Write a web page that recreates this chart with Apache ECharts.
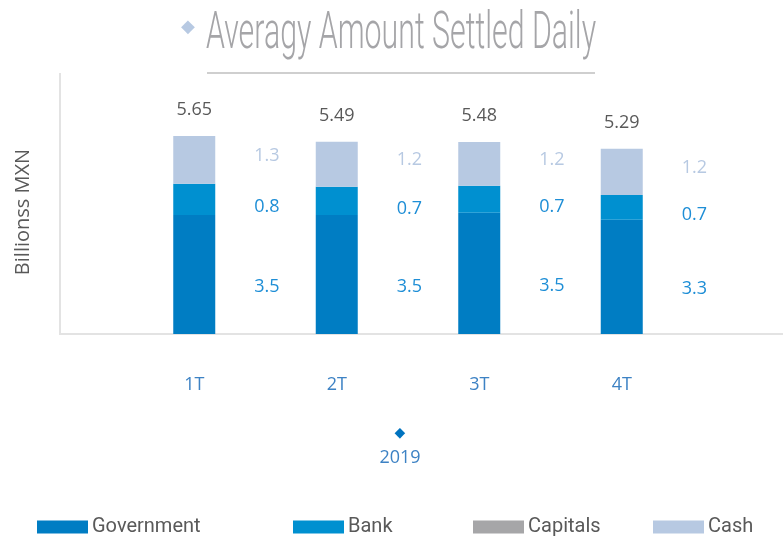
<!DOCTYPE html>
<html>
<head>
<meta charset="utf-8">
<script src="https://cdn.jsdelivr.net/npm/echarts@6/dist/echarts.min.js"></script>
<style>
  html, body { margin: 0; padding: 0; background: #fff; }
  #chart { width: 783px; height: 538px; }
</style>
</head>
<body>
<div id="chart"></div>
<script>
// datos del grafico
var quarters = ['1T', '2T', '3T', '4T'];
var government = [3.40, 3.40, 3.46, 3.26];
var bank = [0.89, 0.80, 0.77, 0.71];
var capitals = [0, 0, 0, 0];
var cash = [1.36, 1.29, 1.25, 1.32];
var totals = [5.65, 5.49, 5.48, 5.29];
// etiquetas como aparecen en la imagen
var govLabels = ['3.5', '3.5', '3.5', '3.3'];
var bankLabels = ['0.8', '0.7', '0.7', '0.7'];
var cashLabels = ['1.3', '1.2', '1.2', '1.2'];
var yearLabel = '2019';

var font = 'Open Sans';
var myChart = echarts.init(document.getElementById('chart'));

function sideLabel(arr, color, dy) {
  return {
    show: true,
    position: 'right',
    distance: 39,
    offset: [0, dy],
    color: color,
    fontSize: 18,
    fontFamily: font,
    formatter: function (p) { return arr[p.dataIndex]; }
  };
}

function legendAt(name, left) {
  return {
    data: [name],
    left: left,
    top: 517,
    padding: 0,
    icon: 'rect',
    itemWidth: 51,
    itemHeight: 13,
    itemGap: 3,
    selectedMode: false,
    textStyle: { color: '#595959', fontSize: 20, fontFamily: 'Roboto', padding: [0, 0, 0, -1] }
  };
}

var option = {
  animation: false,
  color: ['#007dc3', '#0090d0', '#a6a6a8', '#b7c9e2'],
  grid: { left: 123, right: 90, top: 73, bottom: 204 },
  legend: [
    legendAt('Government', 37),
    legendAt('Bank', 293),
    legendAt('Capitals', 473),
    legendAt('Cash', 653)
  ],
  xAxis: {
    type: 'category',
    data: quarters,
    axisLine: { show: false },
    axisTick: { show: false },
    axisLabel: { margin: 42, color: '#3d82c4', fontSize: 18, fontFamily: font },
    name: '{d|◆}\n{y|' + yearLabel + '}',
    nameLocation: 'middle',
    nameGap: 86,
    nameTextStyle: {
      padding: [0, 16, 0, 0],
      rich: {
        d: { color: '#0073bf', fontSize: 14, lineHeight: 26, fontFamily: 'DejaVu Sans' },
        y: { color: '#3d82c4', fontSize: 18, lineHeight: 24, fontFamily: font }
      }
    }
  },
  yAxis: {
    type: 'value',
    min: 0,
    max: 7.45,
    axisLine: { show: false },
    axisTick: { show: false },
    axisLabel: { show: false },
    splitLine: { show: false },
    name: 'Billionss MXN',
    nameLocation: 'middle',
    nameGap: 90,
    nameTextStyle: { color: '#595959', fontSize: 20, fontFamily: font, padding: [0, 17, 0, 0] }
  },
  series: [
    { name: 'Government', type: 'bar', stack: 'q', barWidth: 42, data: government,
      label: sideLabel(govLabels, '#1e8ed6', 12) },
    { name: 'Bank', type: 'bar', stack: 'q', barWidth: 42, data: bank,
      label: sideLabel(bankLabels, '#1e8ed6', 8) },
    { name: 'Capitals', type: 'bar', stack: 'q', barWidth: 42, data: capitals },
    { name: 'Cash', type: 'bar', stack: 'q', barWidth: 42, data: cash,
      label: sideLabel(cashLabels, '#b7c9e2', -4) },
    { name: 'Total', type: 'bar', stack: 'q', barWidth: 42,
      data: totals.map(function () { return 0; }),
      itemStyle: { color: 'transparent' },
      label: {
        show: true, position: 'top', distance: 17,
        color: '#595959', fontSize: 18, fontFamily: font,
        formatter: function (p) { return totals[p.dataIndex].toFixed(2); }
      }
    }
  ],
  graphic: [
    { type: 'text', x: 181, y: 18, style: { text: '◆', fontSize: 18, fontFamily: 'DejaVu Sans', fill: '#b7c9e2' } },
    { type: 'text', x: 206, y: 9, scaleX: 0.583,
      style: { text: 'Averagy Amount Settled Daily', fontSize: 52, fontWeight: 300, fontFamily: 'Roboto', fill: '#a5a5a8' } },
    { type: 'line', shape: { x1: 207, y1: 73, x2: 595, y2: 73 }, style: { stroke: '#cfcfcf', lineWidth: 2 } },
    { type: 'line', shape: { x1: 60, y1: 73, x2: 60, y2: 334 }, style: { stroke: '#e3e3e3', lineWidth: 2 } },
    { type: 'line', shape: { x1: 59, y1: 334, x2: 783, y2: 334 }, style: { stroke: '#e3e3e3', lineWidth: 2 } }
  ]
};

myChart.setOption(option);
</script>
</body>
</html>
